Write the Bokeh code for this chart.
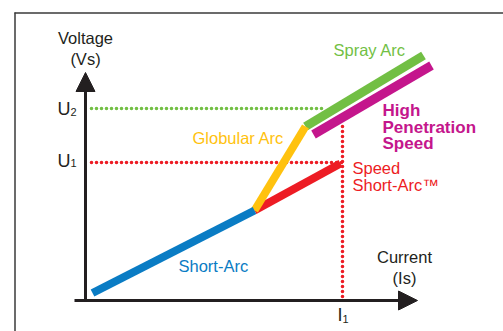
from bokeh.plotting import figure
from bokeh.models import Range1d, Arrow, NormalHead
from bokeh.core.properties import value
from bokeh.embed import file_html
from bokeh.resources import INLINE

# ---- data (current / voltage in arbitrary units, origin at axes crossing) ----
short_arc_i = [7, 169]
short_arc_u = [7.5, 90]
globular_i = [169, 220]
globular_u = [90, 174]
spray_i = [220, 338]
spray_u = [174, 245]
penetration_i = [228, 346]
penetration_u = [166, 235]
speed_i = [169, 255]
speed_u = [90, 137]

U1 = 138
U2 = 192
I1 = 257
dotted_start = 6
u2_dotted_end = 240
i1_dotted_top = 178

x_axis_i = [-11, 332]
y_axis_u = [-1, 228]

FONT = value("Liberation Sans")
DARK = "#231f20"
BLUE = "#0a7cc4"
YELLOW = "#ffc20e"
RED = "#ed1c24"
GREEN = "#72bf44"
MAGENTA = "#c4168c"

p = figure(width=503, height=331, x_range=Range1d(-85, 418), y_range=Range1d(-31, 300),
           output_backend="svg", toolbar_location=None, min_border=0)
p.axis.visible = False
p.grid.visible = False
p.outline_line_color = None
p.background_fill_color = "white"
p.border_fill_color = "white"

# frame corner
p.multi_line(xs=[[-71, 420], [-70.5, -70.5]], ys=[[287.5, 287.5], [288, -40]],
             line_color="#3a3a3a", line_width=1.5)

# dotted reference lines
p.line([dotted_start, u2_dotted_end], [U2, U2], line_color=GREEN, line_width=3.6,
       line_dash="0 5", line_cap="round")
p.line([dotted_start, I1], [U1, U1], line_color=RED, line_width=3.6,
       line_dash="0 5", line_cap="round")
p.line([I1, I1], [4, i1_dotted_top], line_color=RED, line_width=3.6,
       line_dash="0 5", line_cap="round")

# axes with arrows
p.add_layout(Arrow(x_start=x_axis_i[0], y_start=0, x_end=x_axis_i[1], y_end=0,
                   line_color=DARK, line_width=3,
                   end=NormalHead(size=19, fill_color=DARK, line_color=DARK, line_width=1)))
p.add_layout(Arrow(x_start=0, y_start=y_axis_u[0], x_end=0, y_end=y_axis_u[1],
                   line_color=DARK, line_width=3,
                   end=NormalHead(size=19, fill_color=DARK, line_color=DARK, line_width=1)))

# arc characteristic lines
p.line(penetration_i, penetration_u, line_color=MAGENTA, line_width=9, line_cap="butt")
p.line(spray_i, spray_u, line_color=GREEN, line_width=9, line_cap="butt")
p.line(speed_i, speed_u, line_color=RED, line_width=8, line_cap="butt")
p.line(globular_i, globular_u, line_color=YELLOW, line_width=8, line_cap="butt")
p.line(short_arc_i, short_arc_u, line_color=BLUE, line_width=8, line_cap="butt")


def txt(x, y, s, color, size="16.5px", align="left", style="normal", baseline="middle"):
    p.text(x=[x], y=[y], text=[s], text_color=color, text_font=FONT,
           text_font_size=size, text_align=align, text_baseline=baseline,
           text_font_style=style)


txt(0, 263, "Voltage", DARK, align="center")
txt(0, 242, "(Vs)", DARK, align="center")
txt(319, 44, "Current", DARK, align="center")
txt(319, 23, "(Is)", DARK, align="center")

txt(-15, 192, "U", DARK, size="18px", align="right")
txt(-15, 188.5, "2", DARK, size="11px")
txt(-15, 139.5, "U", DARK, size="18px", align="right")
txt(-15, 137.5, "1", DARK, size="11px")
txt(257, -14, "I", DARK, size="18px", align="right")
txt(257, -18, "1", DARK, size="11px")

txt(93, 35, "Short-Arc", BLUE)
txt(107, 163, "Globular Arc", YELLOW)
txt(248, 251, "Spray Arc", GREEN)
txt(297, 190, "High", MAGENTA, size="17px", style="bold")
txt(297, 173, "Penetration", MAGENTA, size="17px", style="bold")
txt(297, 157, "Speed", MAGENTA, size="17px", style="bold")
txt(267, 133, "Speed", RED)
txt(267, 116, "Short-Arc\u2122", RED)

open("out.html", "w").write(file_html(p, INLINE))
